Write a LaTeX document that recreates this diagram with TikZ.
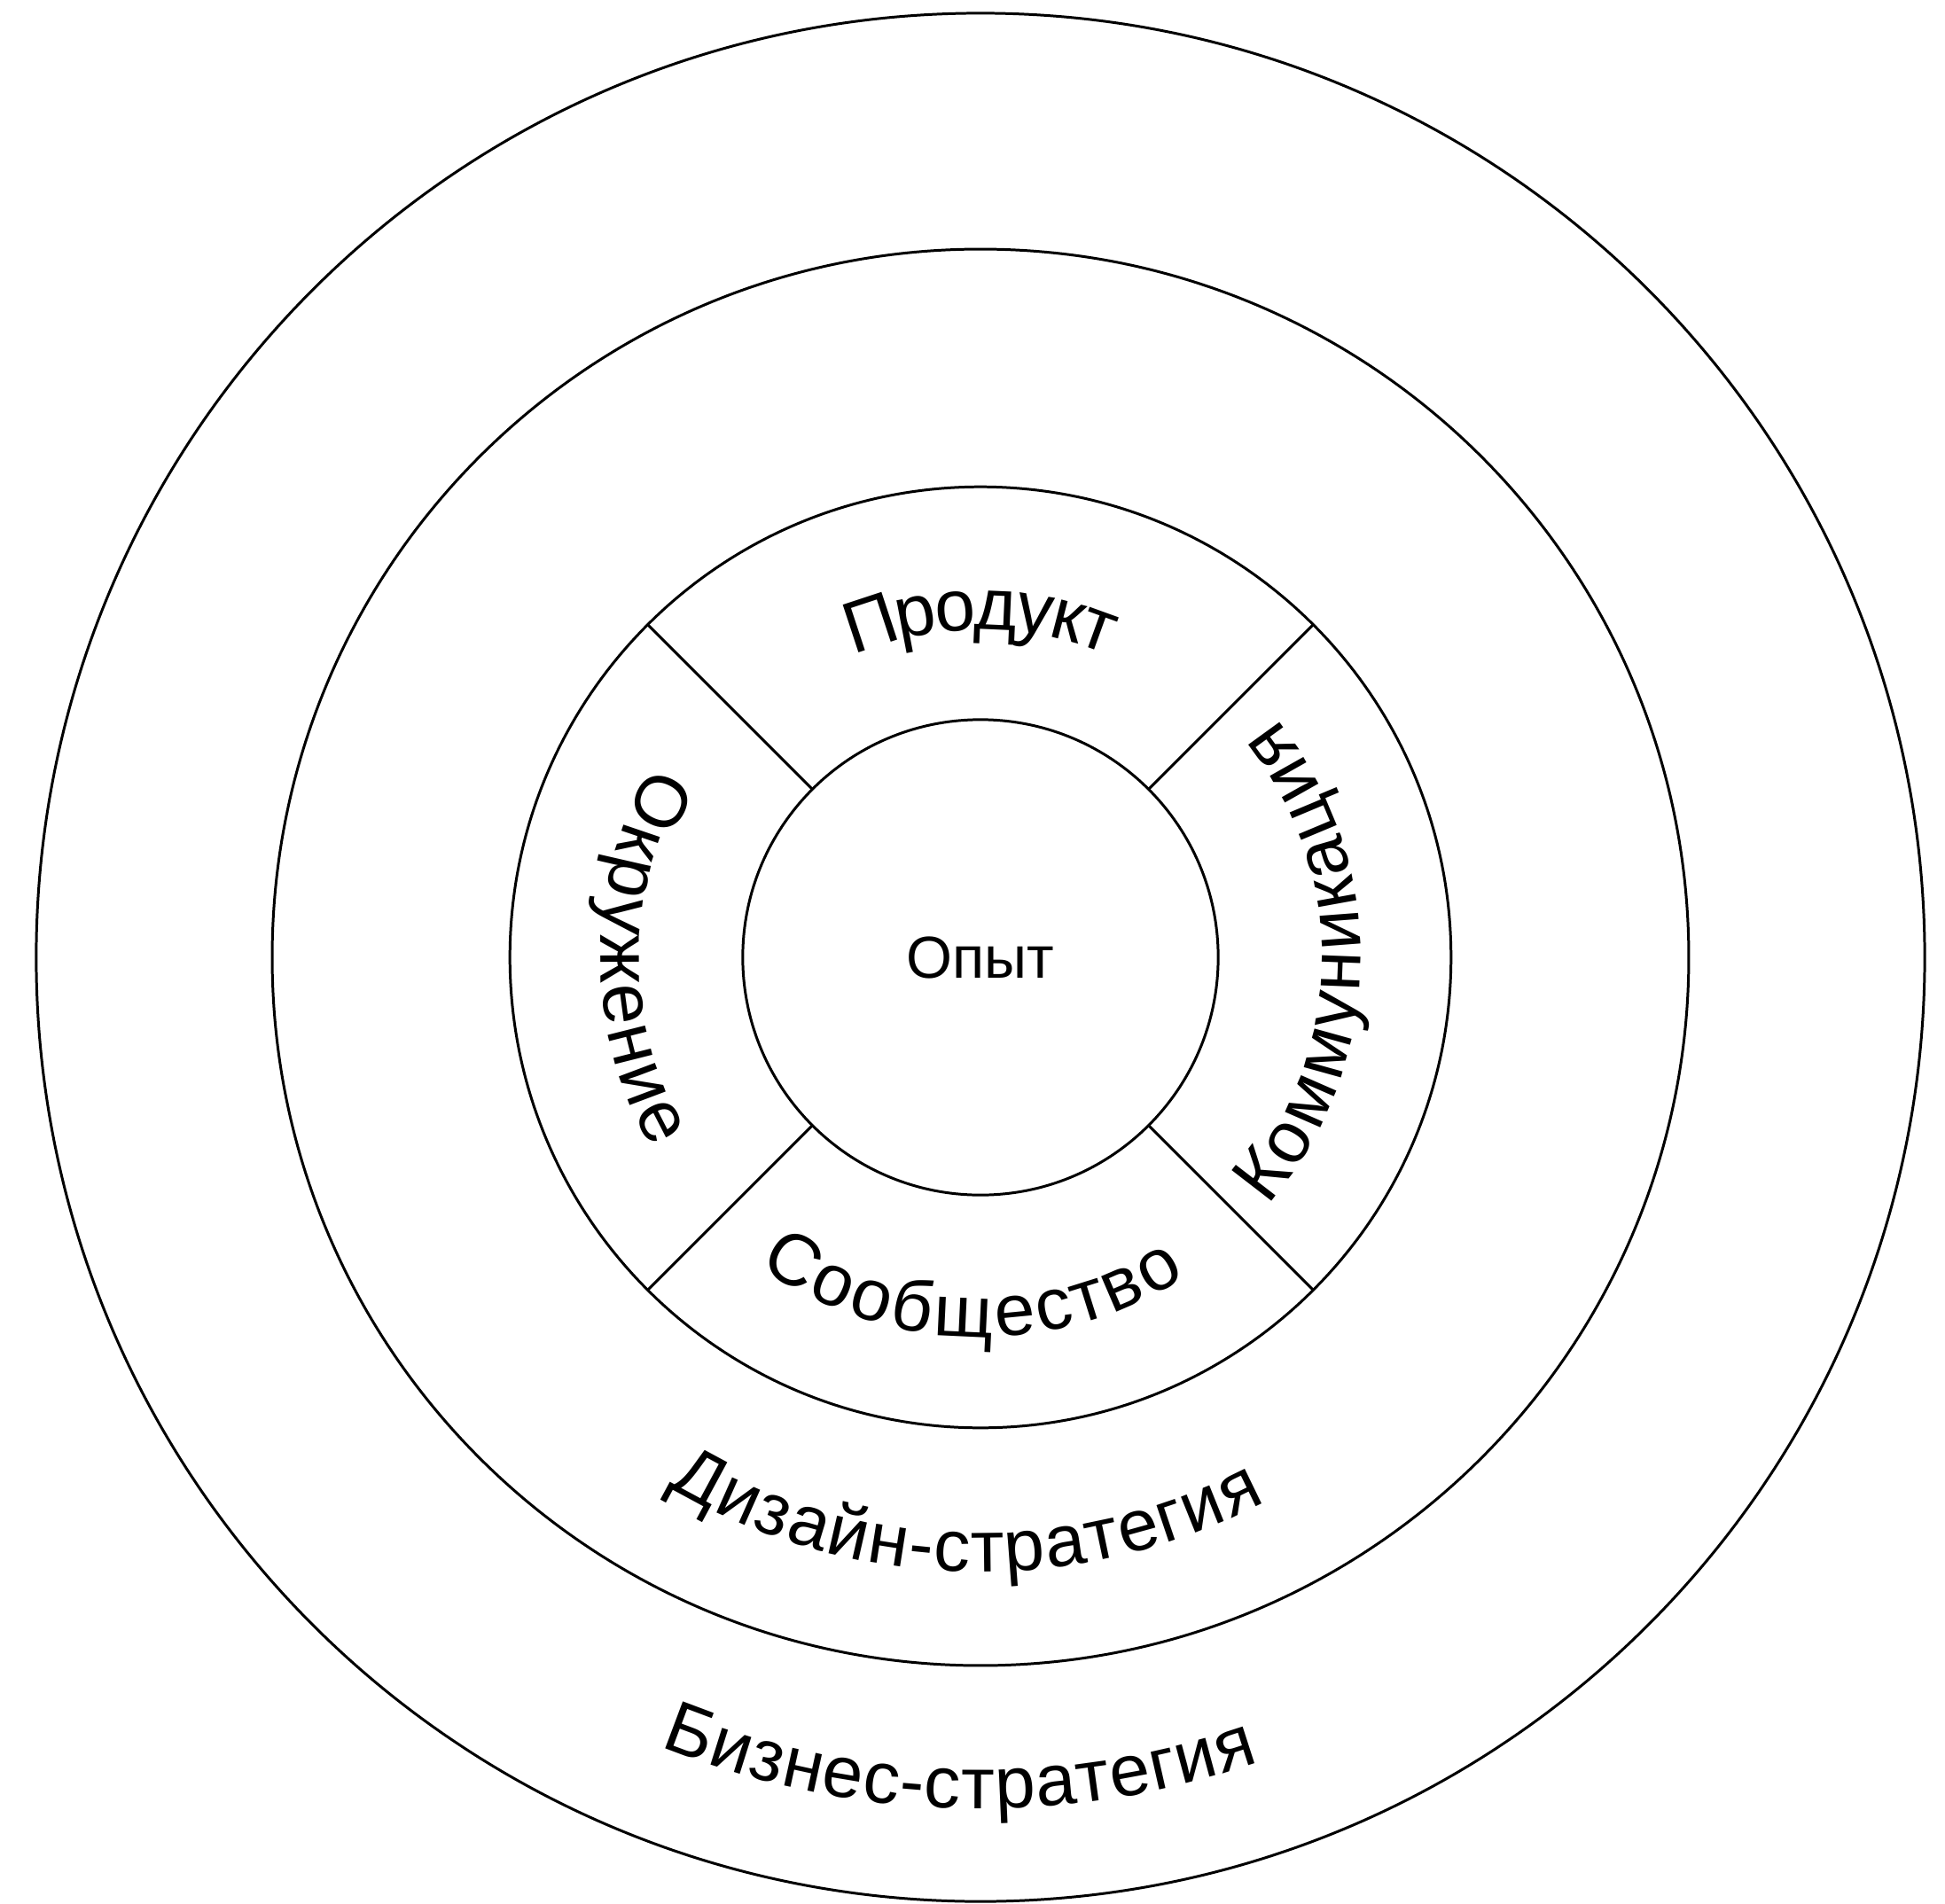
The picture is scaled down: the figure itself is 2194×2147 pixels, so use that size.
\documentclass[tikz,border=0pt]{standalone}
\usepackage{fontspec}
\setmainfont{Liberation Sans}
\usetikzlibrary{decorations.text}
\newcommand\lblfont{\fontsize{23.4}{28}\selectfont}
\begin{document}
\begin{tikzpicture}[x=0.01cm,y=0.01cm,
  ring/.style={circle,draw=black,line width=0.85pt,inner sep=0pt,outer sep=0pt},
  divider/.style={draw=black,line width=0.85pt},
  arclabel/.style={decorate,decoration={text along path,text align=center,raise=-0.295cm,text={|\lblfont|#1}}}]
\useasboundingbox (-1106,-1067) rectangle (1088,1080);
\node[ring,minimum size=21.29cm] (biz) at (0,0) {};
\node[ring,minimum size=15.97cm] (design) at (0,0) {};
\node[ring,minimum size=10.61cm] (mid) at (0,0) {};
\node[ring,minimum size=5.36cm,font=\fontsize{19}{23}\selectfont] (exp) at (0,0) {Опыт};
\foreach \a in {45,135,225,315}{
  \draw[divider] (exp.\a) -- (mid.\a);
}
\path[arclabel={Продукт}] (150:399) arc[start angle=150,end angle=30,radius=399];
\path[arclabel={Окружение}] (110:399) arc[start angle=110,end angle=250,radius=399];
\path[arclabel={Коммуникация}] (-71:399) arc[start angle=-71,end angle=69,radius=399];
\path[arclabel={Сообщество}] (198.5:399) arc[start angle=198.5,end angle=338.5,radius=399];
\path[arclabel={Дизайн-стратегия}] (198.5:664) arc[start angle=198.5,end angle=338.5,radius=664];
\path[arclabel={Бизнес-стратегия}] (198.5:931) arc[start angle=198.5,end angle=338.5,radius=931];
\end{tikzpicture}
\end{document}
